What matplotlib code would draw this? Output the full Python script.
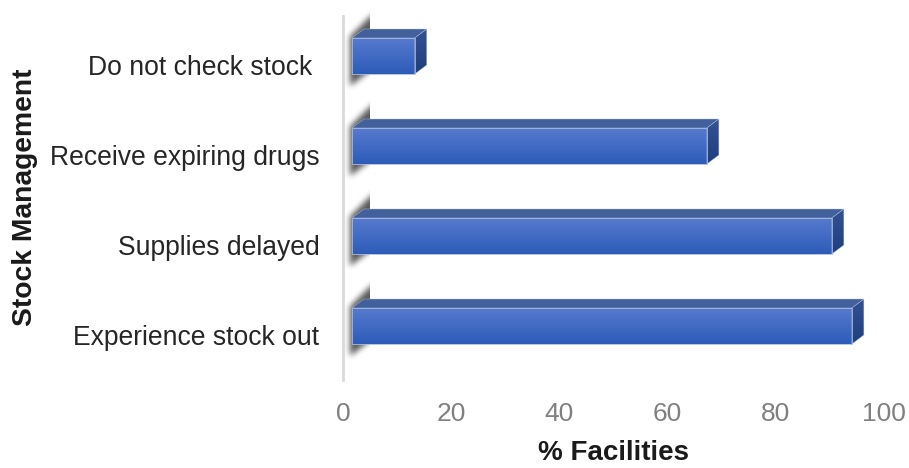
import numpy as np
import matplotlib
matplotlib.use('Agg')
import matplotlib.pyplot as plt
from matplotlib.patches import Polygon

categories = ['Experience stock out', 'Supplies delayed', 'Receive expiring drugs', 'Do not check stock ']
values = [92.4, 88.7, 65.6, 11.6]
x_ticks = [0, 20, 40, 60, 80, 100]

plt.rcParams['font.family'] = ['Liberation Sans', 'DejaVu Sans']

W, H = 909, 468
fig = plt.figure(figsize=(W / 100, H / 100), dpi=100)
# axes box in pixels: x 343-884, y 20-380
ax = fig.add_axes([343 / W, 1 - 380 / H, 541 / W, 360 / H])
ax.set_xlim(0, 100)
ax.set_ylim(-0.5, 3.5)

px = 100 / 541   # data units per pixel, x
py = 4 / 360     # data units per pixel, y

left = 9 * px        # front face starts away from the wall
dx = 12 * px         # 3d depth
dy = 9 * py
up = 9 * py          # front face sits above the slot centre
bar_h = 36 * py

# front gradient, top to bottom
front = np.linspace(0, 1, 64)[:, None, None] * (np.array([45, 92, 184]) - np.array([86, 122, 206])) + np.array([86, 122, 206])
front = front / 255
side = np.linspace(0, 1, 64)[:, None, None] * (np.array([31, 62, 124]) - np.array([52, 82, 146])) + np.array([52, 82, 146])
side = side / 255


def soft_shadow(y):
    # blurred dark shape on the wall behind a bar, drawn on a pixel grid around the bar centre
    w, h = 50, 120
    xx, yy = np.meshgrid(np.arange(w), np.arange(h))
    yy = yy - h / 2
    top_edge = -40 + (27 - xx) * 0.95
    bottom_edge = 30 - (xx - 6) * 0.75
    m = ((xx >= 7) & (xx < 36) & (yy > top_edge) & (yy < bottom_edge)).astype(float)
    k = np.ones(7) / 7
    for _ in range(2):
        m = np.apply_along_axis(lambda r: np.convolve(r, k, mode='same'), 0, m)
        m = np.apply_along_axis(lambda r: np.convolve(r, k, mode='same'), 1, m)
    m[:, 27:] = 0
    rgba = np.zeros((h, w, 4))
    rgba[..., :3] = 0.28
    rgba[..., 3] = m * 0.9
    yc = y + up
    ax.imshow(rgba, extent=[0, w * px, yc - h / 2 * py, yc + h / 2 * py],
              aspect='auto', zorder=1, clip_on=False, interpolation='bilinear')


for i, v in enumerate(values):
    soft_shadow(i)
    y0 = i + up - bar_h / 2
    y1 = i + up + bar_h / 2
    x1 = left + v
    b = ax.barh(i + up, v, height=bar_h, left=left, color='none', edgecolor='#a9bbdc', linewidth=0.6, zorder=3)
    im = ax.imshow(front, extent=[left, x1, y0, y1], aspect='auto', zorder=2)
    im.set_clip_path(b[0])
    top = Polygon([(left, y1), (left + dx, y1 + dy), (x1 + dx, y1 + dy), (x1, y1)],
                  facecolor='#42609c', edgecolor='#b4c2dc', linewidth=0.3, zorder=2)
    ax.add_patch(top)
    sd = Polygon([(x1, y0), (x1 + dx, y0 + dy), (x1 + dx, y1 + dy), (x1, y1)],
                 facecolor='none', edgecolor='#b4c2dc', linewidth=0.3, zorder=3)
    ax.add_patch(sd)
    im2 = ax.imshow(side, extent=[x1, x1 + dx, y0, y1 + dy], aspect='auto', zorder=2)
    im2.set_clip_path(sd)

ax.set_xlim(0, 100)
ax.set_ylim(-0.5, 3.5)

for s in ['top', 'right', 'bottom']:
    ax.spines[s].set_visible(False)
ax.spines['left'].set_color('#d9d9d9')
ax.spines['left'].set_linewidth(2)
ax.spines['left'].set_bounds(-0.5, 3.55)
ax.patch.set_alpha(0)

ax.set_yticks(range(len(categories)))
ax.set_yticklabels(categories, fontsize=19.1, color='#262626')
ax.set_xticks(x_ticks)
ax.tick_params(axis='y', length=0, pad=17)
ax.tick_params(axis='x', length=0, pad=16, labelsize=19, labelcolor='#808080')

ax.set_xlabel('% Facilities', fontsize=20, fontweight='bold', color='#1a1a1a')
ax.xaxis.set_label_coords((614 - 343) / 541, (380 - 453) / 360, transform=ax.transAxes)
ax.xaxis.label.set_va('center')
ax.set_ylabel('Stock Management', fontsize=20.3, fontweight='bold', color='#1a1a1a')
ax.yaxis.set_label_coords((25 - 343) / 541, (380 - 197) / 360, transform=ax.transAxes)
ax.yaxis.label.set_va('center')

fig.savefig('out.png', dpi=100)
